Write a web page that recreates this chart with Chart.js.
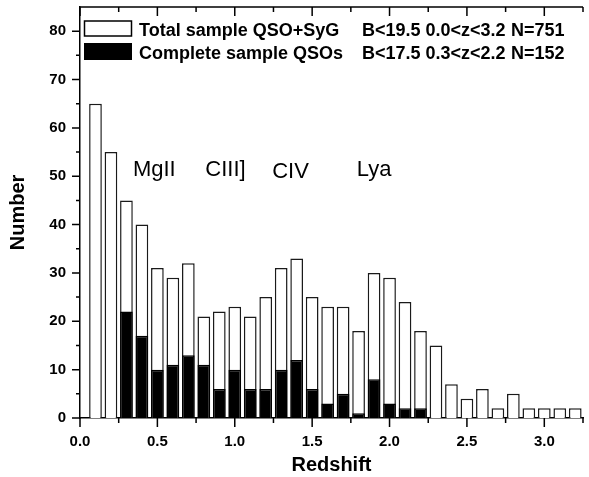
<!DOCTYPE html>
<html>
<head>
<meta charset="utf-8">
<script src="https://cdn.jsdelivr.net/npm/chart.js@4"></script>
<style>
  html, body { margin: 0; padding: 0; background: #fff; }
  canvas { display: block; }
</style>
</head>
<body>
<canvas id="chart" width="589" height="477"></canvas>
<script>
// bin centres (redshift)
const binCentres = [0.1,0.2,0.3,0.4,0.5,0.6,0.7,0.8,0.9,1.0,1.1,1.2,1.3,1.4,1.5,1.6,
                    1.7,1.8,1.9,2.0,2.1,2.2,2.3,2.4,2.5,2.6,2.7,2.8,2.9,3.0,3.1,3.2];
const totalCounts = [65,55,45,40,31,29,32,21,22,23,21,25,31,33,25,23,
                     23,18,30,29,24,18,15,7,4,6,2,5,2,2,2,2];
// complete sample only covers 0.3..2.2
const completeCentres = [0.3,0.4,0.5,0.6,0.7,0.8,0.9,1.0,1.1,1.2,1.3,1.4,1.5,1.6,1.7,1.8,1.9,2.0,2.1,2.2];
const completeCounts = [22,17,10,11,13,11,6,10,6,6,10,12,6,3,5,1,8,3,2,2];

const lineNames = ['MgII', 'CIII]', 'CIV', 'Lya'];
const lineX = [0.48, 0.94, 1.36, 1.90];
const lineY = [50, 50, 49.6, 50];

const legendNames = ['Total sample QSO+SyG', 'Complete sample QSOs'];
const legendCuts = ['B<19.5 0.0<z<3.2', 'B<17.5 0.3<z<2.2'];
const legendN = ['N=751', 'N=152'];

const X_MIN = 0, X_MAX = 3.25, Y_MIN = 0, Y_MAX = 85;
const FONT = '"Liberation Sans", Arial, Helvetica, sans-serif';

const isMult = (v, step) => Math.abs(v / step - Math.round(v / step)) < 1e-6;

const toPts = (xs, ys) => xs.map((x, i) => ({ x, y: ys[i] }));

// top axis line, ticks, labels on lines, legend
const extras = {
  id: 'extras',
  afterDraw(chart) {
    const ctx = chart.ctx, x = chart.scales.x, y = chart.scales.y, ca = chart.chartArea;
    ctx.save();
    ctx.strokeStyle = '#000'; ctx.lineWidth = 1.5;
    ctx.beginPath();
    ctx.moveTo(ca.left - 0.75, ca.top); ctx.lineTo(ca.right, ca.top);
    x.ticks.forEach(t => {
      const px = x.getPixelForValue(t.value);
      const len = isMult(t.value, 0.5) ? 9 : 5;
      ctx.moveTo(px, ca.bottom); ctx.lineTo(px, ca.bottom + len);
      ctx.moveTo(px, ca.top); ctx.lineTo(px, ca.top + len);
    });
    y.ticks.forEach(t => {
      if (t.value >= Y_MAX) return;
      const py = y.getPixelForValue(t.value);
      const len = isMult(t.value, 10) ? 8 : 4;
      ctx.moveTo(ca.left, py); ctx.lineTo(ca.left - len, py);
    });
    ctx.stroke();

    // emission line names
    ctx.fillStyle = '#000';
    ctx.font = '22px ' + FONT;
    ctx.textAlign = 'center'; ctx.textBaseline = 'alphabetic';
    lineNames.forEach((n, i) => ctx.fillText(n, x.getPixelForValue(lineX[i]), y.getPixelForValue(lineY[i])));

    // legend
    ctx.lineWidth = 1.5;
    ctx.fillStyle = '#fff'; ctx.fillRect(84.5, 21, 47, 15);
    ctx.strokeRect(84.5, 21, 47, 15);
    ctx.fillStyle = '#000'; ctx.fillRect(84, 43, 48, 17);
    ctx.font = 'bold 18px ' + FONT;
    ctx.textAlign = 'left';
    [35.5, 59].forEach((by, i) => {
      ctx.fillText(legendNames[i], 139, by);
      ctx.fillText(legendCuts[i], 362, by);
      ctx.fillText(legendN[i], 511, by);
    });
    ctx.restore();
  }
};

new Chart(document.getElementById('chart'), {
  type: 'bar',
  data: {
    datasets: [
      { label: 'complete', data: toPts(completeCentres, completeCounts),
        backgroundColor: '#000', borderColor: '#000', borderWidth: 1.5 },
      { label: 'total', data: toPts(binCentres, totalCounts),
        backgroundColor: '#fff', borderColor: '#1a1a1a', borderWidth: 1.5 }
    ]
  },
  options: {
    responsive: false,
    animation: false,
    layout: { padding: { right: 6, left: 0, top: 7, bottom: 0 } },
    datasets: { bar: { grouped: false, barPercentage: 0.82, categoryPercentage: 1 } },
    plugins: { legend: { display: false }, tooltip: { enabled: false } },
    scales: {
      x: {
        type: 'linear', position: 'bottom', min: X_MIN, max: X_MAX, offset: false,
        afterFit: s => { s.height = 59; s.paddingLeft = 0; s.paddingRight = 0; },
        grid: { display: false },
        border: { display: true, color: '#000', width: 1.5 },
        ticks: {
          stepSize: 0.25, autoSkip: false, maxRotation: 0, padding: 7,
          color: '#000', font: { family: FONT, size: 15, weight: 'bold' },
          callback: v => isMult(v, 0.5) ? v.toFixed(1) : ''
        },
        title: { display: true, text: 'Redshift', color: '#000', padding: 0,
                 font: { family: FONT, size: 20, weight: 'bold' } }
      },
      y: {
        min: Y_MIN, max: Y_MAX,
        afterFit: s => { s.width = 80; s.paddingTop = 0; s.paddingBottom = 0; },
        grid: { display: false },
        border: { display: true, color: '#000', width: 1.5 },
        ticks: {
          stepSize: 5, autoSkip: false, padding: 6,
          color: '#000', font: { family: FONT, size: 15, weight: 'bold' },
          callback: v => isMult(v, 10) ? String(v) : ''
        },
        title: { display: true, text: 'Number', color: '#000', padding: { top: 6, bottom: 0 },
                 font: { family: FONT, size: 20, weight: 'bold' } }
      }
    }
  },
  plugins: [extras]
});
</script>
</body>
</html>
